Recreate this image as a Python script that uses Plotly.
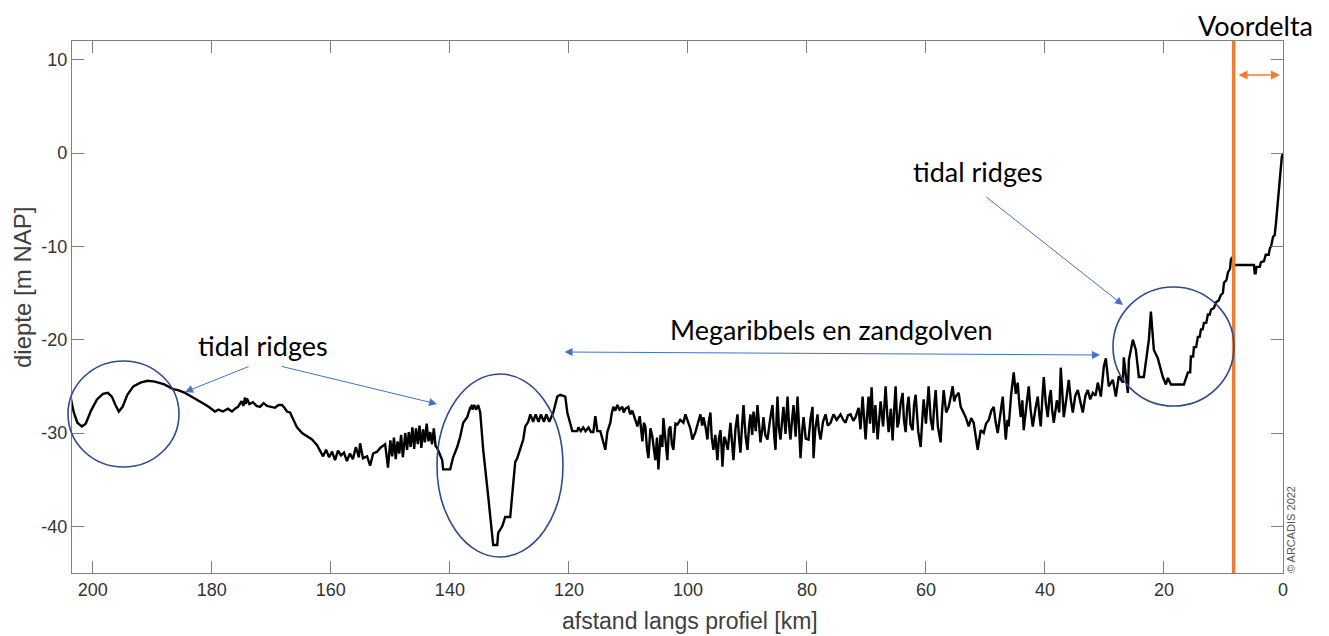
import plotly.graph_objects as go

# distance along profile [km] and depth [m NAP], west to east
afstand_west = [
    203.7, 203.2, 202.6, 201.85, 201.2, 200.3, 199.3, 198.3, 197.48, 196.8,
    196.2, 195.63, 195.0, 194.2, 193.2, 192.0, 190.8, 189.57, 188.0, 186.5,
    185.7, 184.5, 183.68, 182.0, 181.0, 180.32, 179.48, 178.9, 178.13, 177.3,
    176.62, 176.1, 175.61, 175.0, 174.7, 174.43, 174.3, 174.1, 173.7, 173.09,
    172.5, 171.91, 171.3, 170.73, 170.0, 169.39, 168.8, 168.21, 167.8, 167.37,
    166.86, 166.36, 165.69, 164.84, 164.0, 163.16, 162.32, 161.48,
]
diepte_west = [
    -26.3, -27.8, -28.9, -29.3, -29.0, -27.6, -26.4, -25.8, -25.7, -26.1,
    -27.0, -27.7, -27.2, -25.9, -25.0, -24.6, -24.4, -24.5, -24.8, -25.3,
    -25.4, -25.7, -26.0, -26.6, -27.0, -27.3, -27.7, -27.5, -27.7, -27.4,
    -27.7, -27.4, -27.2, -26.6, -27.1, -26.2, -26.9, -26.3, -26.9, -26.7,
    -27.1, -27.2, -26.8, -27.1, -27.2, -27.3, -27.0, -27.0, -27.3, -27.7,
    -27.8, -28.5, -29.4, -30.0, -30.4, -30.7, -31.3, -32.3,
]

afstand_geul = [
    161.31, 160.8, 160.3, 159.8, 159.3, 158.8, 158.3, 157.8, 157.3, 156.8,
    156.3, 155.8, 155.3, 155.09, 154.6, 153.91, 153.4, 152.9, 152.23, 151.72,
    150.88, 150.4, 150.0, 149.7, 149.4, 149.1, 148.8, 148.5, 148.2, 147.9,
    147.5, 147.2, 146.9, 146.6, 146.3, 146.0, 145.7, 145.4, 145.1, 144.8,
    144.5, 144.2, 143.9, 143.6, 143.3, 143.0, 142.7, 142.4, 142.14,
]
diepte_geul = [
    -32.5, -31.8, -32.6, -32.0, -32.9, -31.9, -32.4, -32.1, -33.0, -32.2,
    -32.8, -31.5, -32.6, -31.1, -32.7, -32.5, -33.5, -32.2, -32.0, -31.6,
    -31.2, -33.7, -30.8, -32.5, -30.5, -32.8, -30.9, -32.2, -30.2, -32.6,
    -30.0, -31.8, -29.9, -31.5, -29.4, -31.7, -29.5, -31.2, -29.2, -31.6,
    -29.6, -31.0, -29.0, -30.9, -29.9, -31.2, -29.5, -31.4, -31.6,
]

afstand_rug = [
    141.29, 141.13, 139.95, 139.45, 138.77, 138.27, 137.76, 137.09, 136.59, 136.25,
    136.2, 135.9, 135.6, 135.24, 134.9, 134.4, 133.56, 132.88, 132.72, 132.04,
    131.88, 131.2, 130.7, 129.86, 129.52, 129.02, 128.68, 128.18, 127.67, 127.33,
    126.83, 126.49, 126.0, 125.6, 125.1, 124.7, 124.2, 123.8, 123.3, 122.62,
    121.95, 121.45, 120.61, 120.27, 119.76, 119.43,
]
diepte_rug = [
    -32.9, -33.9, -33.9, -32.6, -31.5, -30.4, -28.9, -28.3, -27.3, -27.0,
    -27.5, -27.0, -27.5, -27.0, -27.8, -31.8, -36.8, -41.1, -42.0, -42.0,
    -40.7, -40.0, -39.0, -39.0, -36.8, -33.1, -32.7, -31.8, -30.7, -29.3,
    -28.8, -28.0, -28.8, -28.0, -28.8, -28.0, -28.8, -28.0, -28.8, -27.8,
    -26.1, -25.9, -26.1, -27.8, -28.9, -29.8,
]

afstand_mega = [
    118.6, 118.4, 118.0, 117.6, 117.2, 116.7, 116.3, 115.89, 115.56, 115.22,
    114.72, 114.38, 113.88, 113.54, 113.04, 112.8, 112.53, 112.2, 111.86, 111.5,
    111.02, 110.8, 110.51, 110.01, 109.7, 109.34, 108.9, 108.49, 108.1, 107.65,
    107.4, 107.15, 106.9, 106.64, 106.3, 105.97, 105.7, 105.47, 105.2, 104.96,
    104.6, 104.29, 104.12, 103.8, 103.45, 103.2, 102.94, 102.7, 102.44, 102.1,
    101.77, 101.3, 100.76, 100.42, 99.92, 99.6, 99.24, 98.74, 98.3, 97.9,
    97.6, 97.39, 97.0, 96.72, 96.5, 96.22, 96.0, 95.71, 95.4, 95.04,
    94.8, 94.53, 94.35, 94.2, 93.9, 93.69, 93.3, 92.85, 92.6, 92.35,
    92.0, 91.67, 91.4, 91.17, 90.9, 90.66, 90.3, 89.99, 89.7, 89.49,
    89.2, 88.98, 88.6, 88.31, 88.0, 87.81, 87.5, 87.3, 87.0, 86.63,
    86.2, 85.79, 85.5, 85.28, 85.1, 84.95, 84.7, 84.44, 84.2, 83.94,
    83.6, 83.26, 83.0, 82.76, 82.5, 82.25, 81.9, 81.58, 81.3, 81.08,
    80.8, 80.57, 80.2, 79.73, 79.4, 79.06, 78.89, 78.6, 78.22, 78.0,
    77.71, 77.3, 76.87, 76.5, 76.03, 75.53, 75.0, 74.35, 73.9, 73.51,
    73.1, 72.67, 72.2, 71.83, 71.32, 71.0, 70.65, 70.4, 70.14, 69.9,
    69.64, 69.4, 69.13, 68.8, 68.5, 68.12, 67.9, 67.62, 67.2, 66.78,
    66.5, 66.27, 65.9, 65.6, 65.35, 65.1, 64.8, 64.59, 64.25, 63.92,
    63.7, 63.41, 63.15, 62.91, 62.6, 62.24, 62.0, 61.73, 61.3, 60.89,
    60.6, 60.39, 60.0, 59.55, 59.2, 58.87, 58.6, 58.37, 58.0, 57.53,
    57.3, 57.02, 56.6, 56.18, 55.8, 55.51, 55.25, 55.0, 54.5, 54.16,
    53.7, 53.32, 52.82, 52.4, 51.98, 51.6, 51.3, 50.8, 50.29, 49.9,
    49.45, 49.0, 48.61, 48.3, 47.94, 47.5, 47.1, 46.8, 46.59, 46.3,
    46.09, 45.7, 45.25, 44.9, 44.58, 44.3, 44.07, 43.8, 43.57, 43.1,
    42.73, 42.4, 42.05, 41.6, 41.21, 40.95, 40.71, 40.45, 40.2, 39.85,
    39.53, 39.25, 39.02, 38.8, 38.52, 38.0, 37.6, 37.34, 37.1, 36.84,
    36.4, 36.0, 35.65, 35.32, 34.9, 34.48, 34.0, 33.64, 33.2, 32.8,
    32.4, 31.96, 31.5, 31.12, 30.61,
]
diepte_mega = [
    -29.8, -29.4, -29.8, -29.4, -29.8, -29.4, -29.9, -29.9, -28.2, -29.8,
    -29.8, -30.7, -31.8, -29.9, -28.9, -27.9, -27.2, -27.6, -27.0, -27.5,
    -27.2, -27.8, -27.4, -27.2, -28.0, -27.6, -28.6, -29.3, -28.2, -30.9,
    -28.9, -29.3, -31.5, -32.7, -29.5, -30.4, -31.8, -32.9, -30.5, -33.9,
    -30.2, -31.5, -28.4, -31.0, -32.9, -29.6, -29.3, -31.2, -31.8, -29.0,
    -29.1, -28.6, -28.9, -28.0, -28.9, -29.5, -30.7, -29.9, -28.9, -28.0,
    -29.2, -28.3, -29.5, -30.7, -28.8, -27.8, -30.5, -31.8, -30.2, -32.9,
    -30.6, -29.7, -31.5, -33.6, -30.4, -30.7, -31.8, -28.9, -30.9, -32.9,
    -29.5, -28.0, -30.6, -32.1, -29.2, -27.0, -30.4, -31.8, -29.1, -28.0,
    -30.2, -27.7, -29.8, -27.0, -29.4, -31.0, -29.6, -28.3, -30.2, -30.7,
    -28.6, -27.0, -30.3, -31.8, -28.4, -26.1, -29.5, -30.7, -28.9, -27.2,
    -30.1, -26.1, -29.2, -30.7, -28.6, -27.0, -30.4, -26.1, -29.6, -32.7,
    -29.8, -28.3, -30.6, -30.7, -28.5, -27.2, -32.7, -29.6, -28.0, -29.7,
    -30.7, -28.8, -28.0, -29.2, -28.9, -28.0, -28.6, -28.0, -28.6, -28.9,
    -28.1, -28.0, -28.7, -28.3, -27.3, -29.6, -26.1, -28.9, -30.7, -28.2,
    -26.1, -29.0, -25.1, -30.0, -27.0, -30.7, -28.4, -26.6, -29.3, -25.0,
    -28.1, -29.9, -27.4, -30.8, -27.6, -25.0, -29.4, -28.9, -26.8, -25.7,
    -28.6, -29.9, -27.2, -26.1, -29.1, -29.7, -27.0, -25.9, -29.8, -31.5,
    -28.4, -26.4, -29.0, -25.0, -28.5, -29.7, -27.0, -25.4, -29.3, -31.0,
    -27.8, -25.4, -27.8, -27.2, -26.0, -25.0, -26.6, -26.1, -25.7, -27.2,
    -27.8, -28.3, -29.3, -28.4, -28.9, -30.4, -31.8, -29.7, -30.0, -29.0,
    -28.6, -27.6, -27.2, -28.8, -30.0, -28.0, -26.1, -28.8, -30.7, -28.6,
    -29.3, -26.0, -23.5, -25.8, -24.6, -26.9, -28.3, -26.5, -29.7, -27.0,
    -25.0, -27.6, -29.3, -27.4, -26.1, -28.0, -29.3, -26.4, -24.0, -26.9,
    -28.3, -26.2, -25.4, -27.5, -28.9, -26.5, -27.8, -23.0, -26.0, -28.3,
    -26.3, -24.3, -26.5, -27.8, -26.0, -25.4, -26.8, -27.8, -26.0, -25.4,
    -26.4, -25.7, -26.0, -24.6, -26.1,
]

afstand_oost = [
    30.11, 29.77, 29.27, 28.6, 28.09, 27.59, 26.91, 26.75, 26.07, 25.9,
    25.23, 24.73, 24.22, 23.38, 22.71, 22.54, 22.2, 21.7, 21.03, 20.19,
    19.68, 19.34, 18.84, 16.65, 15.98, 15.6, 15.48, 15.1, 14.97, 14.6,
    14.3, 14.0, 13.79, 13.5, 13.29, 12.9, 12.62, 12.3, 12.11, 11.6,
    11.27, 10.8, 10.43, 10.1, 9.92, 9.5, 9.25, 8.9, 8.75, 8.41,
    8.3, 4.88, 4.75, 4.6, 4.45, 3.9, 3.7, 3.2, 2.9, 2.4,
    2.2, 2.0, 1.68, 1.4, 1.18, 0.67, 0.2, 0.0,
]
diepte_oost = [
    -22.9, -22.0, -25.0, -24.3, -26.1, -23.9, -24.6, -21.9, -25.7, -22.2,
    -20.0, -21.1, -24.0, -24.0, -21.1, -20.0, -17.0, -21.1, -22.0, -24.0,
    -24.8, -24.1, -24.8, -24.8, -23.5, -23.5, -21.8, -21.8, -20.8, -20.8,
    -19.7, -19.7, -18.9, -18.9, -18.2, -18.2, -17.3, -17.3, -16.8, -16.6,
    -16.0, -15.8, -15.2, -15.0, -13.9, -13.6, -12.8, -12.4, -11.4, -11.1,
    -12.0, -12.0, -12.9, -12.9, -12.2, -12.2, -11.7, -11.6, -10.9, -10.9,
    -10.2, -10.0, -9.0, -8.8, -7.5, -3.9, -0.4, 0.0,
]

afstand = afstand_west + afstand_geul + afstand_rug + afstand_mega + afstand_oost
diepte = diepte_west + diepte_geul + diepte_rug + diepte_mega + diepte_oost
assert len(afstand) == len(diepte)

x_ticks = [0, 20, 40, 60, 80, 100, 120, 140, 160, 180, 200]
y_ticks = [-40, -30, -20, -10, 0, 10]
y_ticktext = ['-40', '-30', '-20', '-10', '0', '10']
voordelta_grens = 8.3

AX_GREY = '#7f7f7f'
BLUE = '#4472C4'
NAVY = '#2F4B8C'
ORANGE = '#ED7D31'
TXT = 'Lato'

fig = go.Figure()
fig.add_trace(go.Scatter(x=afstand, y=diepte, mode='lines',
                         line=dict(color='black', width=2.4),
                         hoverinfo='skip', showlegend=False))

axis_style = dict(showline=True, linecolor=AX_GREY, linewidth=1.2, mirror='ticks',
                  ticks='inside', ticklen=12, tickcolor=AX_GREY, tickwidth=1.2,
                  showgrid=False, zeroline=False,
                  tickfont=dict(family='Liberation Sans', size=18, color='#333333'))

fig.update_xaxes(range=[203.5, 0], tickvals=x_ticks, **axis_style)
fig.update_yaxes(range=[-45, 12], tickvals=y_ticks, ticktext=y_ticktext, **axis_style)

# page body has an 8px margin, so the figure starts at (8, 8); positions below are page pixels
OFF = 8
FIG_W, FIG_H = 1329 - OFF, 636 - OFF
W, H, L, T = 1211, 532, 72 - OFF, 41 - OFF


def px(x):
    return (x - OFF - L) / W


def py(y):
    return (T + H - (y - OFF)) / H


# orange Voordelta boundary
fig.add_shape(type='line', xref='x', yref='paper', x0=voordelta_grens, x1=voordelta_grens,
              y0=0, y1=1, line=dict(color=ORANGE, width=3.5))

# ellipses around the tidal ridges
for x0, x1, y0, y1 in [(68, 179, 467, 361), (437, 563, 557, 374), (1113, 1234, 406, 287)]:
    fig.add_shape(type='circle', xref='paper', yref='paper',
                  x0=px(x0), x1=px(x1), y0=py(y0), y1=py(y1),
                  line=dict(color=NAVY, width=1.6))

annotations = []
# blue arrows: head at (x, y), tail offset (ax, ay) in pixels
for hx, hy, ax, ay, side in [(185, 392, 65, -26, 'end'),
                             (437, 404, -157, -38, 'end'),
                             (1123, 305, -138, -109, 'end'),
                             (1100, 355, -537, -3, 'end+start')]:
    annotations.append(dict(xref='paper', yref='paper', x=px(hx), y=py(hy), ax=ax, ay=ay,
                            text='', showarrow=True, arrowhead=2, arrowsize=1.6,
                            arrowwidth=1, arrowcolor=BLUE, arrowside=side))
annotations.append(dict(xref='paper', yref='paper', x=px(1280), y=py(75), ax=-43, ay=0,
                        text='', showarrow=True, arrowhead=2, arrowsize=1.2,
                        arrowwidth=1.5, arrowcolor=ORANGE, arrowside='end+start'))

for txt, x, y in [('tidal ridges', 263, 345), ('tidal ridges', 978, 172),
                  ('Megaribbels en zandgolven', 831, 330), ('Voordelta', 1255, 25)]:
    annotations.append(dict(xref='paper', yref='paper', x=px(x), y=py(y), text=txt,
                            showarrow=False, xanchor='center', yanchor='middle',
                            font=dict(family=TXT, size=27, color='black')))

annotations.append(dict(xref='paper', yref='paper', x=px(1291), y=py(530),
                        text='© ARCADIS 2022', textangle=-90, showarrow=False,
                        xanchor='center', yanchor='middle',
                        font=dict(family='Liberation Sans', size=11, color='#555555')))
# axis titles
annotations.append(dict(xref='paper', yref='paper', x=px(22), y=py(288),
                        text='diepte [m NAP]', textangle=-90, showarrow=False,
                        xanchor='center', yanchor='middle',
                        font=dict(family='Liberation Sans', size=24, color='#404040')))
annotations.append(dict(xref='paper', yref='paper', x=px(690), y=py(621),
                        text='afstand langs profiel [km]', showarrow=False,
                        xanchor='center', yanchor='middle',
                        font=dict(family='Liberation Sans', size=23, color='#404040')))

fig.update_layout(width=FIG_W, height=FIG_H,
                  margin=dict(l=L, r=FIG_W - L - W, t=T, b=FIG_H - T - H),
                  plot_bgcolor='white', paper_bgcolor='white', annotations=annotations)

fig.write_html("out.html")
